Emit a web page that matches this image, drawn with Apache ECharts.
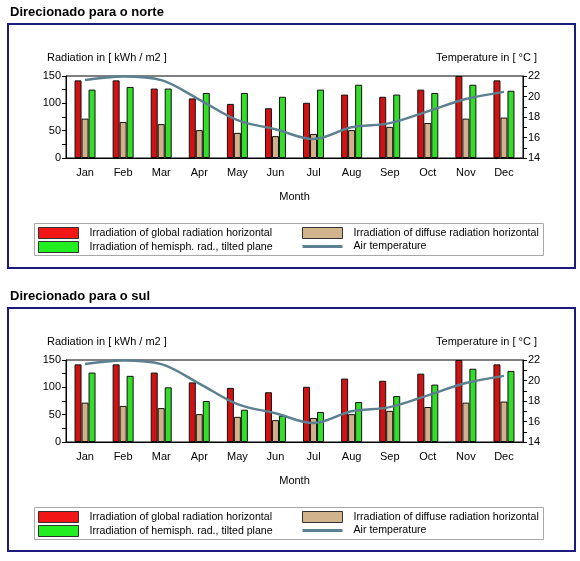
<!DOCTYPE html>
<html>
<head>
<meta charset="utf-8">
<script src="https://cdn.jsdelivr.net/npm/echarts@6/dist/echarts.min.js"></script>
<style>html,body{margin:0;padding:0;background:#fff}#c{width:580px;height:561px}</style>
</head>
<body>
<div id="c"></div>
<script>
const months = ['Jan','Feb','Mar','Apr','May','Jun','Jul','Aug','Sep','Oct','Nov','Dec'];
const globalHorizontal = [142,142,127,109,99,91,101,116,112,125,150,142];
const diffuseHorizontal = [72,66,62,51,46,40,44,51,57,64,72,74];
const tiltedNorth = [125,130,127,119,119,112,125,134,116,119,134,123];
const tiltedSouth = [127,121,100,75,59,48,55,73,84,105,134,130];
const airTemperature = [21.6,21.95,21.6,19.7,17.7,16.8,15.85,17.0,17.4,18.55,19.75,20.45];
const radiationTicks = [0,50,100,150];
const temperatureTicks = [14,16,18,20,22];
const titles = ['Direcionado para o norte','Direcionado para o sul'];

const NAMES = {
  g: 'Irradiation of global radiation horizontal',
  d: 'Irradiation of diffuse radiation horizontal',
  t: 'Irradiation of hemisph. rad., tilted plane',
  a: 'Air temperature'
};
const FONT = 'Liberation Sans, Arial, sans-serif';
const panels = [
  {top: 24, tilted: tiltedNorth},
  {top: 308, tilted: tiltedSouth}
];

const grid = [], xAxis = [], yAxis = [], series = [], legend = [], graphic = [];
panels.forEach((p, i) => {
  const o = p.top;            // frame top
  const gTop = o + 52;
  grid.push({left: 66, right: 57, top: gTop, height: 82, show: true, borderColor: '#000', borderWidth: 1, backgroundColor: '#fff'});
  xAxis.push({
    type: 'category', gridIndex: i, data: months,
    name: 'Month', nameLocation: 'middle', nameGap: 33,
    nameTextStyle: {fontFamily: FONT, fontSize: 11, color: '#000'},
    axisLine: {lineStyle: {color: '#000'}},
    axisTick: {alignWithLabel: true, length: 4, lineStyle: {color: '#000'}},
    axisLabel: {fontFamily: FONT, fontSize: 11, color: '#000', margin: 9}
  });
  yAxis.push({
    type: 'value', gridIndex: i, min: 0, max: 150, interval: 50,
    axisLine: {show: true, lineStyle: {color: '#000'}},
    axisTick: {show: true, length: 4, lineStyle: {color: '#000'}},
    minorTick: {show: true, splitNumber: 2, length: 4, lineStyle: {color: '#000'}},
    splitLine: {show: false},
    axisLabel: {fontFamily: FONT, fontSize: 11, color: '#000', margin: 5,
      formatter: v => radiationTicks.includes(v) ? String(v) : ''}
  });
  yAxis.push({
    type: 'value', gridIndex: i, min: 14, max: 22, interval: 2, position: 'right',
    axisLine: {show: true, lineStyle: {color: '#000'}},
    axisTick: {show: true, length: 4, lineStyle: {color: '#000'}},
    minorTick: {show: true, splitNumber: 2, length: 4, lineStyle: {color: '#000'}},
    splitLine: {show: false},
    axisLabel: {fontFamily: FONT, fontSize: 11, color: '#000', margin: 5,
      formatter: v => temperatureTicks.includes(v) ? String(v) : ''}
  });
  const bar = (name, data, color) => ({
    type: 'bar', name, data, xAxisIndex: i, yAxisIndex: 2 * i,
    barWidth: 7, barGap: '0%',
    itemStyle: {color, borderColor: '#111', borderWidth: 1}
  });
  series.push(bar(NAMES.g, globalHorizontal, '#d01212'));
  series.push(bar(NAMES.d, diffuseHorizontal, '#d2b08c'));
  series.push(bar(NAMES.t, p.tilted, '#33dd2a'));
  series.push({
    type: 'line', name: NAMES.a, data: airTemperature, xAxisIndex: i, yAxisIndex: 2 * i + 1,
    smooth: 0.35, symbol: 'none', z: 5,
    lineStyle: {color: '#5d8090', width: 2.5}, itemStyle: {color: '#5d8090'}
  });
  const lt = {fontFamily: FONT, fontSize: 10.6, color: '#000', padding: [0, 0, 0, 6], lineHeight: 11};
  legend.push({
    orient: 'vertical', left: 33, top: o + 198, itemWidth: 40, itemHeight: 11, itemGap: 2,
    padding: 5, selectedMode: false, textStyle: lt, icon: 'rect',
    data: [
      {name: NAMES.g, icon: 'rect', itemStyle: {color: '#f21616', borderColor: '#333', borderWidth: 1}},
      {name: NAMES.t, icon: 'rect', itemStyle: {color: '#22ee22', borderColor: '#333', borderWidth: 1}}
    ]
  });
  legend.push({
    orient: 'vertical', left: 297, top: o + 198, itemWidth: 40, itemHeight: 11, itemGap: 2,
    padding: 5, selectedMode: false, textStyle: lt, icon: 'rect',
    data: [
      {name: NAMES.d, icon: 'rect', itemStyle: {color: '#d2b48c', borderColor: '#333', borderWidth: 1}},
      {name: NAMES.a, icon: 'path://M0,0H40V3H0Z', itemStyle: {color: '#5d8090', borderWidth: 0}}
    ]
  });
  // frame
  graphic.push({type: 'rect', shape: {x: 8, y: o, width: 567, height: 244 - i},
    style: {fill: null, stroke: '#1c1c80', lineWidth: 2}, z: 0, silent: true});
  // legend box
  graphic.push({type: 'rect', shape: {x: 34.5, y: o + 199.5, width: 509, height: 32},
    style: {fill: null, stroke: '#a8a8a8', lineWidth: 1}, z: 0, silent: true});
  // title
  graphic.push({type: 'text', left: 10, top: o - 18,
    style: {text: titles[i], font: 'bold 13px ' + FONT, fill: '#000'}});
  // axis names
  graphic.push({type: 'text', left: 47, top: o + 28,
    style: {text: 'Radiation in [ kWh / m2 ]', font: '11px ' + FONT, fill: '#000'}});
  graphic.push({type: 'text', right: 43, top: o + 28,
    style: {text: 'Temperature in [ °C ]', font: '11px ' + FONT, fill: '#000'}});
});

const chart = echarts.init(document.getElementById('c'), null, {renderer: 'canvas'});
chart.setOption({
  backgroundColor: '#fff',
  animation: false,
  grid, xAxis, yAxis, series, legend, graphic
});
</script>
</body>
</html>
